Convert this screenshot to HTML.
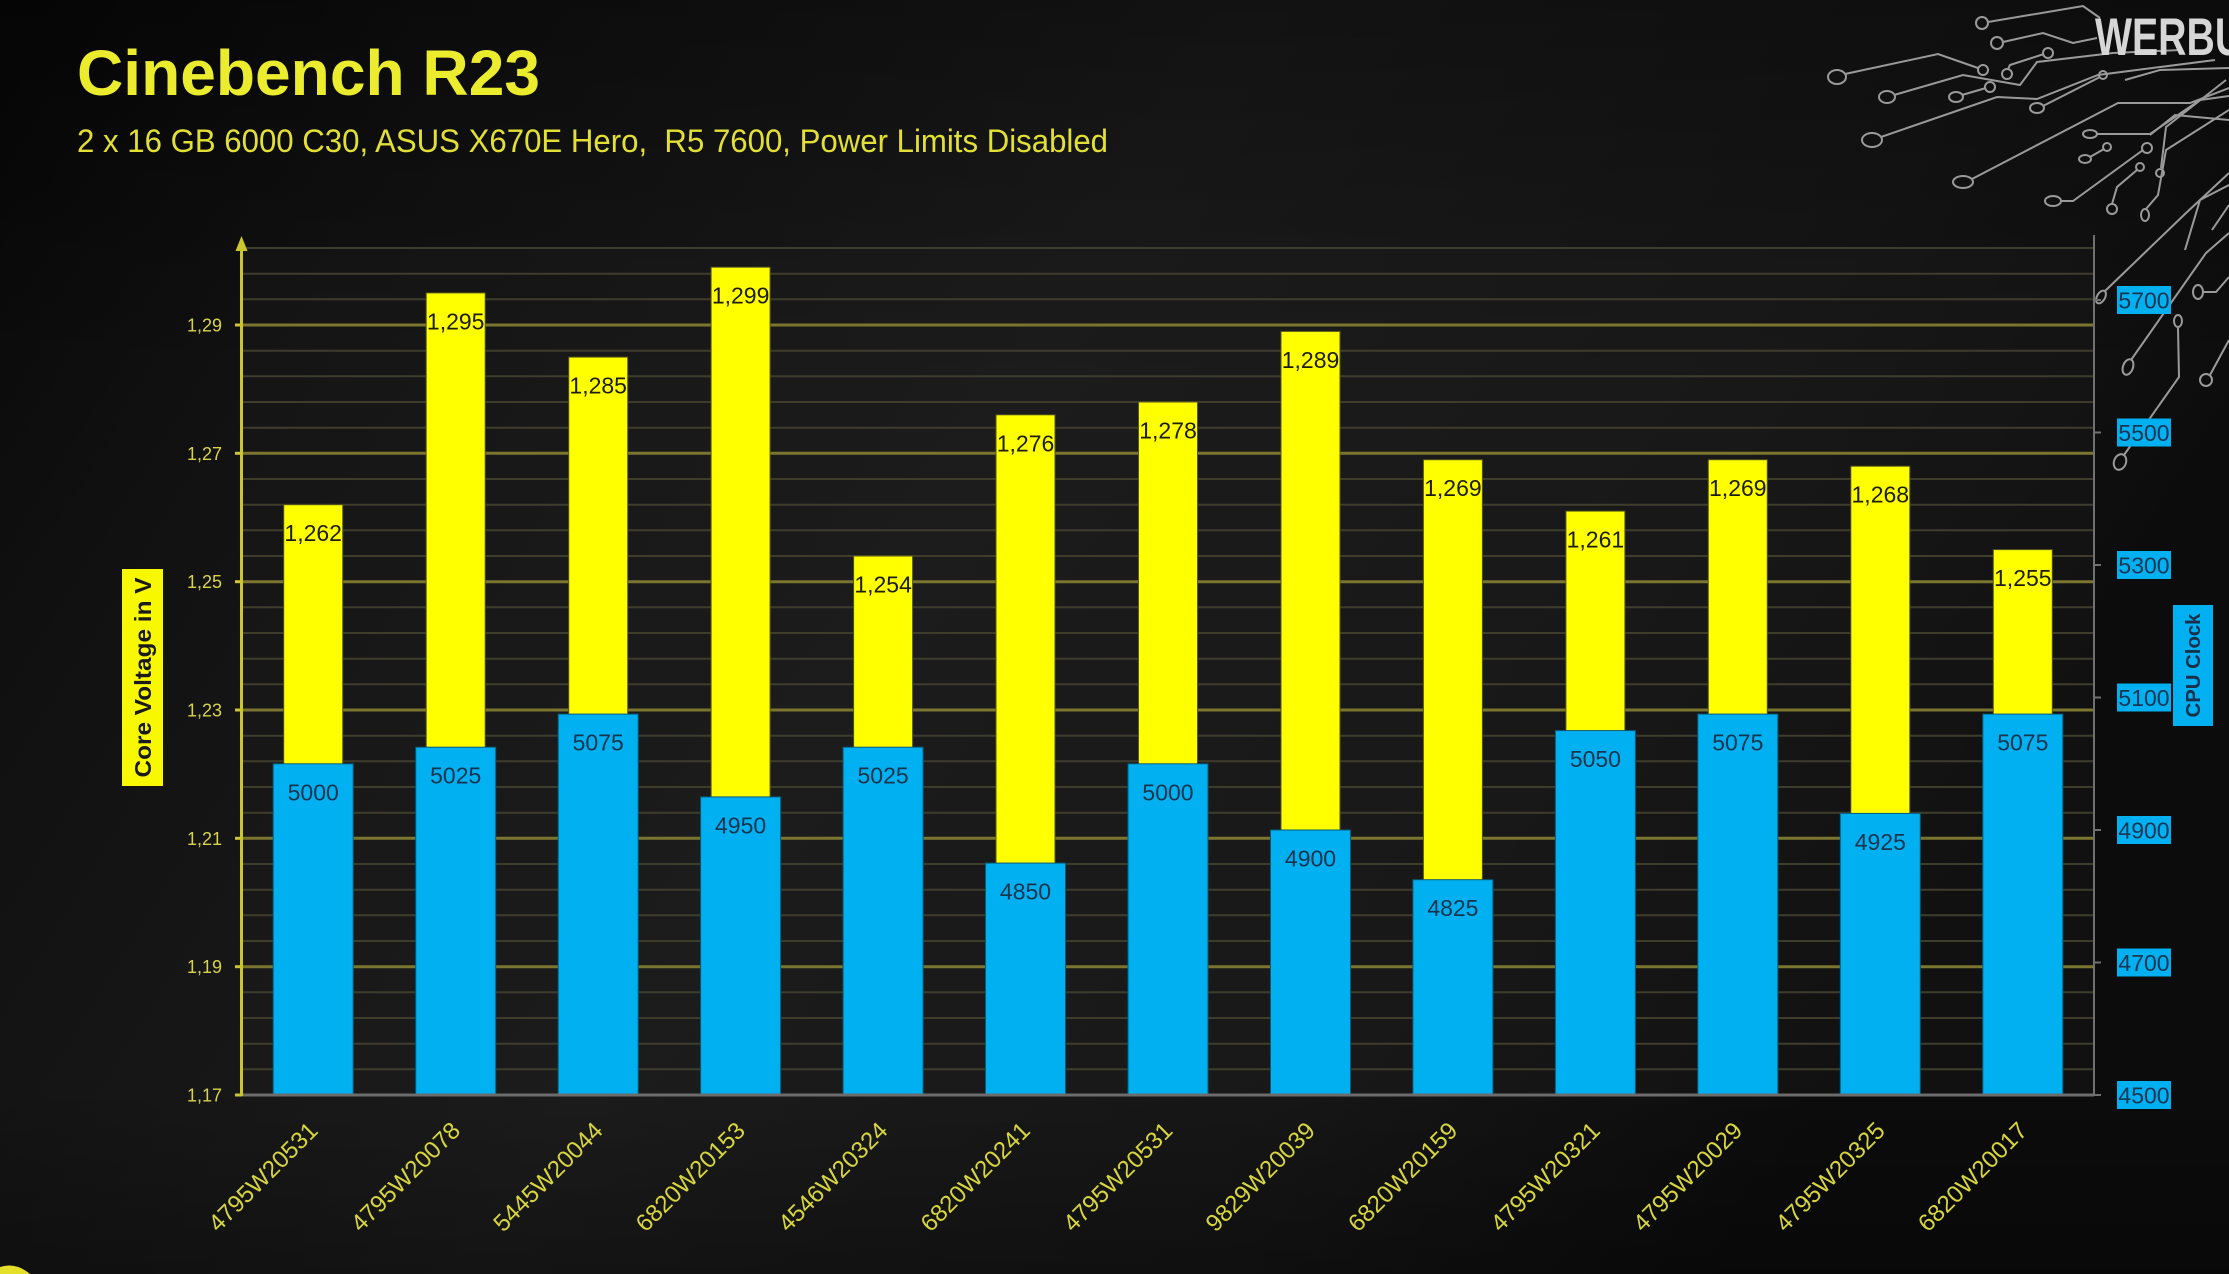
<!DOCTYPE html>
<html>
<head>
<meta charset="utf-8">
<style>
html,body{margin:0;padding:0;background:#111;width:2229px;height:1274px;overflow:hidden;}
svg{display:block;overflow:hidden;}
text{font-family:"Liberation Sans",Arial,sans-serif;}
</style>
</head>
<body>
<svg width="2229" height="1274" viewBox="0 0 2229 1274" xmlns="http://www.w3.org/2000/svg">
<defs>
<linearGradient id="bg" x1="0" y1="0" x2="1" y2="0.35">
<stop offset="0" stop-color="#070707"/>
<stop offset="0.18" stop-color="#111111"/>
<stop offset="0.5" stop-color="#1c1c1c"/>
<stop offset="0.8" stop-color="#161616"/>
<stop offset="1" stop-color="#0c0c0c"/>
</linearGradient>
<linearGradient id="bgv" x1="0" y1="0" x2="0" y2="1">
<stop offset="0" stop-color="#000" stop-opacity="0.35"/>
<stop offset="0.3" stop-color="#000" stop-opacity="0"/>
<stop offset="0.85" stop-color="#000" stop-opacity="0"/>
<stop offset="1" stop-color="#000" stop-opacity="0.3"/>
</linearGradient>
</defs>
<rect x="0" y="0" width="2229" height="1274" fill="url(#bg)"/>
<rect x="0" y="0" width="2229" height="1274" fill="url(#bgv)"/>

<!-- circuit decoration -->
<g fill="none" stroke="#9a9a9a" stroke-width="2">
<circle cx="1982" cy="23" r="6"/><polyline points="1988,22 2083,6 2100,18"/>
<circle cx="1997" cy="43" r="6"/><polyline points="2003,42 2043,33 2073,43 2097,38"/>
<ellipse cx="1837" cy="77" rx="9" ry="7"/><polyline points="1845,74 1938,54 1978,68"/><circle cx="1983" cy="70" r="5"/>
<ellipse cx="1887" cy="97" rx="8" ry="6"/><polyline points="1894,95 1963,75 2020,85 2037,62 2113,53 2180,50"/>
<circle cx="2007" cy="74" r="5"/><polyline points="2008,69 2010,65 2044,54"/><circle cx="2048" cy="53" r="5"/>
<ellipse cx="1956" cy="97" rx="7" ry="5"/><polyline points="1962,95 1986,88"/><circle cx="1990" cy="87" r="5"/>
<ellipse cx="1872" cy="140" rx="10" ry="7"/><polyline points="1881,137 1997,97 2037,99 2098,75 2215,60"/>
<ellipse cx="2037" cy="108" rx="7" ry="5"/><polyline points="2043,106 2100,77"/><circle cx="2103" cy="75" r="4"/>
<ellipse cx="1963" cy="182" rx="10" ry="6"/><polyline points="1972,179 2118,103 2190,103 2229,88"/>
<ellipse cx="2090" cy="134" rx="7" ry="4"/><polyline points="2097,134 2150,134 2200,100 2229,96"/>
<ellipse cx="2085" cy="159" rx="6" ry="4"/><polyline points="2090,157 2104,149"/><circle cx="2107" cy="147" r="4"/>
<ellipse cx="2053" cy="201" rx="8" ry="5"/><polyline points="2061,201 2073,201 2143,150"/><circle cx="2147" cy="148" r="5"/>
<circle cx="2112" cy="209" r="5"/><polyline points="2112,204 2117,187 2137,170"/><circle cx="2140" cy="167" r="4"/>
<ellipse cx="2145" cy="215" rx="4" ry="6"/><polyline points="2146,209 2158,195 2166,150 2229,110"/>
<ellipse cx="2101" cy="297" rx="4" ry="7" transform="rotate(30 2101 297)"/><polyline points="2105,291 2186,213 2229,173"/>
<ellipse cx="2128" cy="367" rx="5" ry="8" transform="rotate(20 2128 367)"/><polyline points="2131,360 2206,253 2229,233"/>
<ellipse cx="2120" cy="462" rx="6" ry="8" transform="rotate(20 2120 462)"/><polyline points="2124,455 2179,377 2178,328"/><ellipse cx="2178" cy="321" rx="4" ry="6"/>
<circle cx="2206" cy="380" r="6"/><polyline points="2210,375 2229,340"/>
<ellipse cx="2198" cy="292" rx="5" ry="7"/><polyline points="2203,292 2216,292 2229,277"/>
<circle cx="2160" cy="173" r="4"/><polyline points="2161,168 2166,127 2226,80"/>
<polyline points="2150,135 2175,115 2229,120"/>
<polyline points="2185,250 2200,200 2229,185"/>
<polyline points="2212,230 2229,205"/>
<polyline points="2125,80 2160,70 2229,68"/>
</g>
<text x="2095" y="55" font-size="53" font-weight="bold" fill="#d6d6d6" textLength="207" lengthAdjust="spacingAndGlyphs">WERBUNG</text>

<!-- bottom-left logo fragment -->
<path d="M0 1267 Q16 1262 30 1274 L0 1274 Z" fill="#e4e02a"/>

<!-- title -->
<text x="77" y="95" font-size="64" font-weight="bold" fill="#ecec2e" textLength="463" lengthAdjust="spacingAndGlyphs">Cinebench R23</text>
<text x="77" y="152" font-size="32" fill="#e2e034" textLength="1031" lengthAdjust="spacingAndGlyphs" style="white-space:pre" xml:space="preserve">2 x 16 GB 6000 C30, ASUS X670E Hero,  R5 7600, Power Limits Disabled</text>

<!-- plot area slight tint -->
<rect x="242" y="248" width="1852" height="847" fill="#1c1c1c" opacity="0.35"/>

<!-- minor gridlines -->
<g stroke="#3e3d2c" stroke-width="2">
<line x1="242" y1="1069.3" x2="2094" y2="1069.3"/>
<line x1="242" y1="1043.7" x2="2094" y2="1043.7"/>
<line x1="242" y1="1018" x2="2094" y2="1018"/>
<line x1="242" y1="992.3" x2="2094" y2="992.3"/>
<line x1="242" y1="941" x2="2094" y2="941"/>
<line x1="242" y1="915.3" x2="2094" y2="915.3"/>
<line x1="242" y1="889.7" x2="2094" y2="889.7"/>
<line x1="242" y1="864" x2="2094" y2="864"/>
<line x1="242" y1="812.7" x2="2094" y2="812.7"/>
<line x1="242" y1="787" x2="2094" y2="787"/>
<line x1="242" y1="761.3" x2="2094" y2="761.3"/>
<line x1="242" y1="735.7" x2="2094" y2="735.7"/>
<line x1="242" y1="684.3" x2="2094" y2="684.3"/>
<line x1="242" y1="658.7" x2="2094" y2="658.7"/>
<line x1="242" y1="633" x2="2094" y2="633"/>
<line x1="242" y1="607.3" x2="2094" y2="607.3"/>
<line x1="242" y1="556" x2="2094" y2="556"/>
<line x1="242" y1="530.3" x2="2094" y2="530.3"/>
<line x1="242" y1="504.7" x2="2094" y2="504.7"/>
<line x1="242" y1="479" x2="2094" y2="479"/>
<line x1="242" y1="427.7" x2="2094" y2="427.7"/>
<line x1="242" y1="402" x2="2094" y2="402"/>
<line x1="242" y1="376.3" x2="2094" y2="376.3"/>
<line x1="242" y1="350.7" x2="2094" y2="350.7"/>
<line x1="242" y1="299.3" x2="2094" y2="299.3"/>
<line x1="242" y1="273.7" x2="2094" y2="273.7"/>
<line x1="242" y1="248" x2="2094" y2="248"/>
</g>
<!-- major gridlines -->
<g stroke="#7a7630" stroke-width="3">
<line x1="242" y1="966.7" x2="2094" y2="966.7"/>
<line x1="242" y1="838.3" x2="2094" y2="838.3"/>
<line x1="242" y1="710" x2="2094" y2="710"/>
<line x1="242" y1="581.7" x2="2094" y2="581.7"/>
<line x1="242" y1="453.3" x2="2094" y2="453.3"/>
<line x1="242" y1="325" x2="2094" y2="325"/>
</g>

<!-- yellow bars -->
<g fill="#ffff00" stroke="#55551a" stroke-width="1">
<rect x="283.7" y="504.7" width="59" height="590.3"/>
<rect x="426.2" y="292.9" width="59" height="802.1"/>
<rect x="568.7" y="357.1" width="59" height="737.9"/>
<rect x="711.1" y="267.2" width="59" height="827.8"/>
<rect x="853.6" y="556" width="59" height="539"/>
<rect x="996" y="414.8" width="59" height="680.2"/>
<rect x="1138.5" y="402" width="59" height="693"/>
<rect x="1281" y="331.4" width="59" height="763.6"/>
<rect x="1423.4" y="459.7" width="59" height="635.3"/>
<rect x="1565.9" y="511.1" width="59" height="583.9"/>
<rect x="1708.3" y="459.7" width="59" height="635.3"/>
<rect x="1850.8" y="466.2" width="59" height="628.8"/>
<rect x="1993.3" y="549.6" width="59" height="545.4"/>
</g>
<!-- blue bars -->
<g fill="#00b0f0" stroke="#0a5a78" stroke-width="1">
<rect x="273.2" y="763.8" width="80" height="331.2"/>
<rect x="415.7" y="747.2" width="80" height="347.8"/>
<rect x="558.2" y="714.1" width="80" height="380.9"/>
<rect x="700.6" y="796.9" width="80" height="298.1"/>
<rect x="843.1" y="747.2" width="80" height="347.8"/>
<rect x="985.5" y="863.1" width="80" height="231.9"/>
<rect x="1128" y="763.8" width="80" height="331.2"/>
<rect x="1270.5" y="830" width="80" height="265"/>
<rect x="1412.9" y="879.7" width="80" height="215.3"/>
<rect x="1555.4" y="730.6" width="80" height="364.4"/>
<rect x="1697.8" y="714.1" width="80" height="380.9"/>
<rect x="1840.3" y="813.4" width="80" height="281.6"/>
<rect x="1982.8" y="714.1" width="80" height="380.9"/>
</g>

<!-- yellow data labels -->
<g font-size="23" fill="#1c1c10" text-anchor="middle">
<text x="313.2" y="541.2">1,262</text>
<text x="455.7" y="329.4">1,295</text>
<text x="598.2" y="393.6">1,285</text>
<text x="740.6" y="303.7">1,299</text>
<text x="883.1" y="592.5">1,254</text>
<text x="1025.5" y="451.3">1,276</text>
<text x="1168" y="438.5">1,278</text>
<text x="1310.5" y="367.9">1,289</text>
<text x="1452.9" y="496.2">1,269</text>
<text x="1595.4" y="547.6">1,261</text>
<text x="1737.8" y="496.2">1,269</text>
<text x="1880.3" y="502.7">1,268</text>
<text x="2022.8" y="586.1">1,255</text>
</g>
<!-- blue data labels -->
<g font-size="23" fill="#16344e" text-anchor="middle">
<text x="313.2" y="800.3">5000</text>
<text x="455.7" y="783.7">5025</text>
<text x="598.2" y="750.6">5075</text>
<text x="740.6" y="833.4">4950</text>
<text x="883.1" y="783.7">5025</text>
<text x="1025.5" y="899.6">4850</text>
<text x="1168" y="800.3">5000</text>
<text x="1310.5" y="866.5">4900</text>
<text x="1452.9" y="916.2">4825</text>
<text x="1595.4" y="767.1">5050</text>
<text x="1737.8" y="750.6">5075</text>
<text x="1880.3" y="849.9">4925</text>
<text x="2022.8" y="750.6">5075</text>
</g>

<!-- axes -->
<line x1="242" y1="1095" x2="2094" y2="1095" stroke="#6c6c6c" stroke-width="3"/>
<line x1="2094" y1="235" x2="2094" y2="1096" stroke="#707070" stroke-width="2"/>
<g stroke="#707070" stroke-width="2">
<line x1="2094" y1="300" x2="2101" y2="300"/>
<line x1="2094" y1="432.5" x2="2101" y2="432.5"/>
<line x1="2094" y1="565" x2="2101" y2="565"/>
<line x1="2094" y1="697.5" x2="2101" y2="697.5"/>
<line x1="2094" y1="830" x2="2101" y2="830"/>
<line x1="2094" y1="962.5" x2="2101" y2="962.5"/>
<line x1="2094" y1="1095" x2="2101" y2="1095"/>
</g>
<line x1="241.5" y1="1096" x2="241.5" y2="248" stroke="#cbc630" stroke-width="3"/>
<polygon points="235.5,251 247.5,251 241.5,236" fill="#cbc630"/>
<g stroke="#cbc630" stroke-width="3">
<line x1="235" y1="1095" x2="242" y2="1095"/>
<line x1="235" y1="966.7" x2="242" y2="966.7"/>
<line x1="235" y1="838.3" x2="242" y2="838.3"/>
<line x1="235" y1="710" x2="242" y2="710"/>
<line x1="235" y1="581.7" x2="242" y2="581.7"/>
<line x1="235" y1="453.3" x2="242" y2="453.3"/>
<line x1="235" y1="325" x2="242" y2="325"/>
</g>

<!-- left tick labels -->
<g font-size="18" fill="#d8d44a" text-anchor="end">
<text x="222" y="1101.5">1,17</text>
<text x="222" y="973.2">1,19</text>
<text x="222" y="844.8">1,21</text>
<text x="222" y="716.5">1,23</text>
<text x="222" y="588.2">1,25</text>
<text x="222" y="459.8">1,27</text>
<text x="222" y="331.5">1,29</text>
</g>

<!-- right tick labels -->
<g fill="#00b0f0">
<rect x="2117" y="286" width="54" height="28"/>
<rect x="2117" y="418.5" width="54" height="28"/>
<rect x="2117" y="551" width="54" height="28"/>
<rect x="2117" y="683.5" width="54" height="28"/>
<rect x="2117" y="816" width="54" height="28"/>
<rect x="2117" y="948.5" width="54" height="28"/>
<rect x="2117" y="1081" width="54" height="28"/>
</g>
<g font-size="23" fill="#183652" text-anchor="middle">
<text x="2144" y="308.3">5700</text>
<text x="2144" y="440.8">5500</text>
<text x="2144" y="573.3">5300</text>
<text x="2144" y="705.8">5100</text>
<text x="2144" y="838.3">4900</text>
<text x="2144" y="970.8">4700</text>
<text x="2144" y="1103.3">4500</text>
</g>

<!-- axis titles -->
<rect x="122" y="569" width="41" height="217" fill="#f8f800"/>
<text transform="translate(151,677.5) rotate(-90)" font-size="23" font-weight="bold" fill="#1a1a1a" text-anchor="middle" textLength="200" lengthAdjust="spacingAndGlyphs">Core Voltage in V</text>
<rect x="2173" y="605" width="40" height="121" fill="#00b0f0"/>
<text transform="translate(2200,665.5) rotate(-90)" font-size="20" font-weight="bold" fill="#18304a" text-anchor="middle" textLength="104" lengthAdjust="spacingAndGlyphs">CPU Clock</text>

<!-- category labels -->
<g font-size="24" fill="#d8d63e" text-anchor="end">
<text transform="translate(319.2,1132) rotate(-45)">4795W20531</text>
<text transform="translate(461.7,1132) rotate(-45)">4795W20078</text>
<text transform="translate(604.2,1132) rotate(-45)">5445W20044</text>
<text transform="translate(746.6,1132) rotate(-45)">6820W20153</text>
<text transform="translate(889.1,1132) rotate(-45)">4546W20324</text>
<text transform="translate(1031.5,1132) rotate(-45)">6820W20241</text>
<text transform="translate(1174,1132) rotate(-45)">4795W20531</text>
<text transform="translate(1316.5,1132) rotate(-45)">9829W20039</text>
<text transform="translate(1458.9,1132) rotate(-45)">6820W20159</text>
<text transform="translate(1601.4,1132) rotate(-45)">4795W20321</text>
<text transform="translate(1743.8,1132) rotate(-45)">4795W20029</text>
<text transform="translate(1886.3,1132) rotate(-45)">4795W20325</text>
<text transform="translate(2028.8,1132) rotate(-45)">6820W20017</text>
</g>
</svg>
</body>
</html>
